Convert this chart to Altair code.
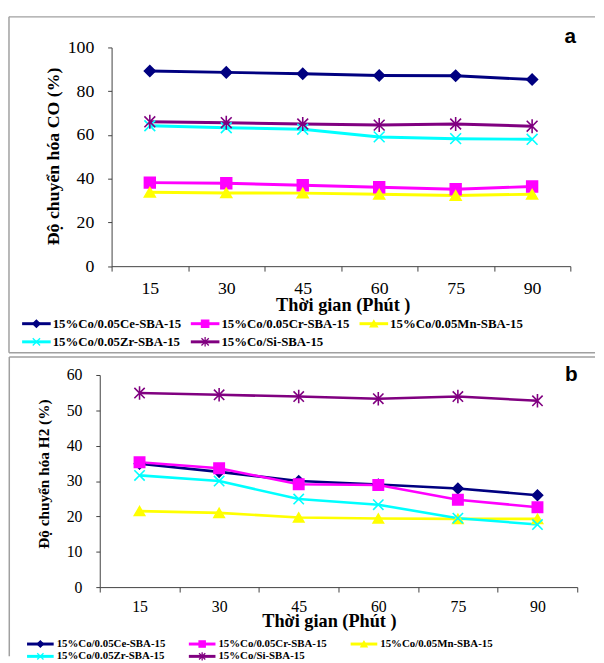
import altair as alt
import pandas as pd

# ---------------- data ----------------
times = [15, 30, 45, 60, 75, 90]
series = ["15%Co/0.05Ce-SBA-15", "15%Co/0.05Cr-SBA-15", "15%Co/0.05Mn-SBA-15",
          "15%Co/0.05Zr-SBA-15", "15%Co/Si-SBA-15"]

# panel a: CO conversion (%)
co_ce = [89.2, 88.6, 88.0, 87.2, 87.1, 85.3]
co_cr = [38.2, 37.9, 37.0, 36.1, 35.2, 36.4]
co_mn = [33.8, 33.5, 33.4, 32.9, 32.3, 32.9]
co_zr = [64.2, 63.3, 62.6, 59.1, 58.3, 58.0]
co_si = [66.0, 65.6, 65.0, 64.5, 65.0, 64.0]

# panel b: H2 conversion (%)
h2_ce = [34.9, 32.6, 30.0, 29.0, 27.9, 26.0]
h2_cr = [35.3, 33.6, 29.1, 28.9, 24.7, 22.6]
h2_mn = [21.5, 21.0, 19.7, 19.4, 19.3, 19.3]
h2_zr = [31.6, 30.0, 24.9, 23.3, 19.5, 17.7]
h2_si = [54.9, 54.4, 53.9, 53.3, 53.9, 52.7]

# legend grid (column / row index of each entry)
legend_cols = [0, 1, 2, 0, 1]
legend_rows = [0, 0, 0, 1, 1]

# ---------------- style ----------------
colors = ["#000080", "#FF00FF", "#FFFF00", "#00FFFF", "#800080"]
X_PATH = "M-1,-1L1,1M-1,1L1,-1"
STAR_PATH = "M-1,-1L1,1M-1,1L1,-1M0,-1.3L0,1.3"
shapes = ["diamond", "square", "triangle-up", X_PATH, STAR_PATH]
SERIF = "Liberation Serif"
AXIS_COL = "#404040"
FRAME_COL = "#A0A0A0"


def make_panel(vals, cfg):
    rows = []
    for s, v in zip(series, vals):
        for t, y in zip(times, v):
            rows.append({"t": t, "v": y, "s": s})
    df = pd.DataFrame(rows)

    color = alt.Color("s:N", scale=alt.Scale(domain=series, range=colors), legend=None)
    fill = alt.Fill("s:N", scale=alt.Scale(domain=series, range=colors), legend=None)
    shape = alt.Shape("s:N", scale=alt.Scale(domain=series, range=shapes), legend=None)

    xaxis = alt.Axis(labelAngle=0, tickBand="extent", tickSize=5, labelPadding=cfg["xlabpad"],
                     labelFont=SERIF, labelFontSize=cfg["tickfs"], labelColor="black",
                     domainColor=AXIS_COL, tickColor=AXIS_COL, grid=False,
                     title="Thời gian (Phút )", titleFont=SERIF, titleFontSize=cfg["xtitlefs"],
                     titleFontWeight="bold", titleColor="black",
                     titleX=cfg["xtitle"][0], titleY=cfg["xtitle"][1],
                     titleBaseline="middle", titleAlign="center")
    yaxis = alt.Axis(values=cfg["yticks"], tickSize=4, labelPadding=14,
                     labelFont=SERIF, labelFontSize=cfg["tickfs"], labelColor="black",
                     domainColor=AXIS_COL, tickColor=AXIS_COL, grid=False,
                     title=cfg["ytitle"], titleFont=SERIF, titleFontSize=cfg["ytitlefs"],
                     titleFontWeight="bold", titleColor="black",
                     titleX=cfg["ytitlepos"][0], titleY=cfg["ytitlepos"][1],
                     titleBaseline="middle", titleAlign="center", titleAngle=270,
                     offset=cfg["yoffset"])

    x = alt.X("t:O", scale=alt.Scale(range=cfg["xrange"], paddingInner=0, paddingOuter=0), axis=xaxis)
    y = alt.Y("v:Q", scale=alt.Scale(domain=[0, cfg["ymax"]], nice=False), axis=yaxis)

    lines = alt.Chart(df).mark_line(strokeWidth=cfg["lw"]).encode(x=x, y=y, color=color)
    pts = alt.Chart(df).mark_point(filled=False, size=cfg["msize"], strokeWidth=1.6, opacity=1).encode(
        x=x, y=y, color=color, fill=fill, shape=shape)
    main = alt.layer(lines, pts)

    L = cfg["legend"]
    leg = pd.DataFrame({"s": series, "col": legend_cols, "row": legend_rows})
    lxs = alt.Scale(domain=[0, 2 * L["step"]], range=[L["x0"], L["x0"] + 2 * L["step"]])
    lys = alt.Scale(domain=[0, L["rstep"]], range=[L["y0"], L["y0"] + L["rstep"]])
    base = alt.Chart(leg).transform_calculate(
        lx=f"datum.col * {L['step']}",
        lx2=f"datum.col * {L['step']} + {L['len']}",
        lm=f"datum.col * {L['step']} + {L['len'] / 2}",
        lt=f"datum.col * {L['step']} + {L['gap']}",
        ly=f"datum.row * {L['rstep']}",
    )
    ly = alt.Y("ly:Q", scale=lys, axis=None)
    lrule = base.mark_rule(strokeWidth=3).encode(
        x=alt.X("lx:Q", scale=lxs, axis=None), x2="lx2:Q", y=ly, color=color)
    lpt = base.mark_point(filled=False, size=L["msize"], strokeWidth=1.3, opacity=1).encode(
        x=alt.X("lm:Q", scale=lxs, axis=None), y=ly, color=color, fill=fill, shape=shape)
    ltxt = base.mark_text(align="left", baseline="middle", font=SERIF, fontWeight="bold",
                          fontSize=L["fs"], color="black").encode(
        x=alt.X("lt:Q", scale=lxs, axis=None), y=ly, text="s:N")
    legend = alt.layer(lrule, lpt, ltxt)

    # panel frame (left, top and optionally bottom edges)
    one = pd.DataFrame({"k": [0]})
    bx0, bx1, by0, by1 = cfg["border"]
    frame_style = dict(color=FRAME_COL, strokeWidth=1.5)
    frame = [
        alt.Chart(one).mark_rule(**frame_style).encode(
            x=alt.value(bx0), x2=alt.value(bx1), y=alt.value(by0)),
        alt.Chart(one).mark_rule(**frame_style).encode(
            x=alt.value(bx0), y=alt.value(by0), y2=alt.value(by1)),
    ]
    if cfg["frame_bottom"]:
        frame.append(alt.Chart(one).mark_rule(**frame_style).encode(
            x=alt.value(bx0), x2=alt.value(bx1), y=alt.value(by1)))

    label = alt.Chart(one).mark_text(text=cfg["label"], font="Liberation Sans", fontWeight="bold",
                                     fontSize=21, color="black", baseline="middle", align="center").encode(
        x=alt.value(cfg["labelpos"][0]), y=alt.value(cfg["labelpos"][1]))

    return alt.layer(*frame, main, legend, label).resolve_scale(
        x="independent", y="independent").properties(width=cfg["w"], height=cfg["h"])


cfg_a = dict(
    w=477, h=221.7, xrange=[12, 477], yoffset=-12, ymax=100, yticks=[0, 20, 40, 60, 80, 100],
    tickfs=18, xlabpad=9, xtitlefs=18.5, xtitle=(246.3, 39),
    ytitle="Độ chuyển hóa CO (%)", ytitlefs=18, ytitlepos=(-58.7, 110),
    lw=3, msize=120,
    legend=dict(x0=-78.7, step=171, len=29, gap=31, y0=280, rstep=18.4, msize=55, fs=13),
    border=(-92, 502, -31, 309.4), frame_bottom=True, label="a", labelpos=(477, -10.3),
)
cfg_b = dict(
    w=484, h=215, xrange=[0, 484], yoffset=0, ymax=60, yticks=[0, 10, 20, 30, 40, 50, 60],
    tickfs=16, xlabpad=7, xtitlefs=18.5, xtitle=(232.3, 34),
    ytitle="Độ chuyển hóa H2 (%)", ytitlefs=15.5, ytitlepos=(-56.7, 100),
    lw=2.6, msize=110,
    legend=dict(x0=-73.7, step=164, len=27, gap=30, y0=272.7, rstep=12.5, msize=40, fs=11),
    border=(-91.7, 502, -18.3, 285), frame_bottom=False, label="b", labelpos=(478, 0),
)

panel_a = make_panel([co_ce, co_cr, co_mn, co_zr, co_si], cfg_a)
panel_b = make_panel([h2_ce, h2_cr, h2_mn, h2_zr, h2_si], cfg_b)

chart = alt.vconcat(panel_a, panel_b, spacing=1).properties(
    padding={"left": 0, "top": 3.5, "right": 0, "bottom": 0}
).configure_view(strokeWidth=0)

chart.save("out.html", embed_options={"renderer": "svg", "actions": False})
